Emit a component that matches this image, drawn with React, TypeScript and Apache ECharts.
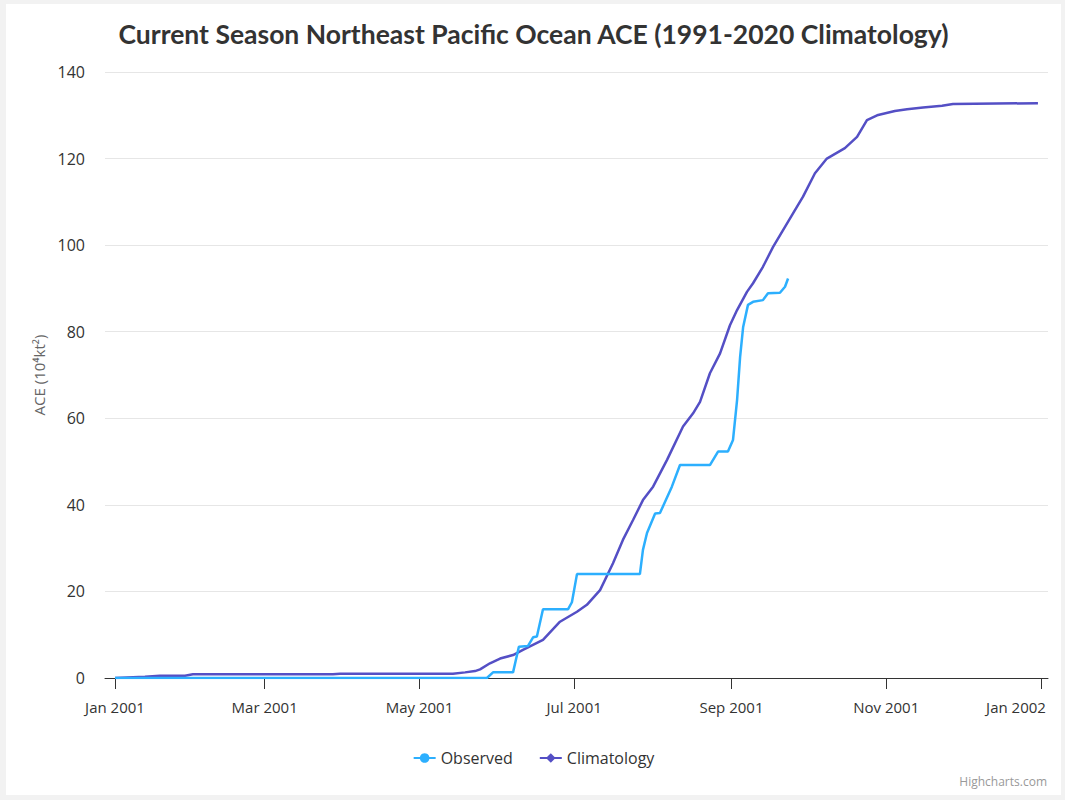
import React, { useEffect, useRef } from "react";
import * as echarts from "echarts";

// x values are days since Jan 1 2001
const tickDays = [0, 59, 120, 181, 243, 304, 365];
const tickLabels = ["Jan 2001", "Mar 2001", "May 2001", "Jul 2001", "Sep 2001", "Nov 2001", "Jan 2002"];

const observedDays = [0, 146.6, 149, 156.9, 159.2, 162.8, 164.8, 166.3, 168.7, 178.6, 180.1, 182.1, 206.9, 208.1, 209.7, 212.9, 214.8, 219.5, 222.7, 234.5, 237.7, 241.6, 243.6, 245.2, 246.4, 247.6, 249.5, 251.5, 255.4, 257.4, 262.1, 264.1, 265.3];
const observedValues = [0, 0, 1.3, 1.3, 7.2, 7.4, 9.4, 9.6, 15.9, 15.9, 17.5, 24.0, 24.0, 29.6, 33.5, 38.0, 38.1, 44.2, 49.2, 49.2, 52.3, 52.3, 55.0, 64.2, 74.2, 81.1, 86.2, 86.9, 87.3, 88.9, 89.0, 90.4, 92.3];

const climDays = [0, 11.8, 17.7, 27.6, 30.7, 85.9, 88.7, 133.2, 138, 141.9, 143.9, 147.8, 151.8, 156.9, 160.8, 168.7, 175.4, 182.1, 186.0, 191.2, 196.3, 200.2, 204.2, 208.1, 212.1, 217.6, 223.9, 227.8, 230.6, 234.5, 238.5, 242.4, 245.2, 249.1, 251.5, 255.4, 259.4, 267.2, 271.2, 275.9, 280.6, 287.7, 292.5, 296.4, 300.4, 307.4, 312.2, 318.5, 326.0, 330.3, 363.8];
const climValues = [0, 0.3, 0.5, 0.5, 0.85, 0.85, 1.0, 1.0, 1.3, 1.6, 2.0, 3.4, 4.5, 5.3, 6.5, 8.8, 13.0, 15.3, 16.9, 20.3, 26.5, 31.9, 36.5, 41.1, 44.2, 50.4, 58.1, 61.1, 63.8, 70.4, 75.0, 81.5, 85.0, 89.2, 91.2, 95.0, 99.6, 107.3, 111.2, 116.6, 120.0, 122.4, 125.0, 128.9, 130.0, 131.0, 131.4, 131.8, 132.2, 132.6, 132.8];

const FONT = "'Open Sans', 'Noto Sans', sans-serif";

export default function App() {
  const ref = useRef<HTMLDivElement>(null);
  useEffect(() => {
    if (!ref.current) return;
    const chart = echarts.init(ref.current, null, { renderer: "svg" });
    chart.setOption({
      animation: false,
      backgroundColor: "#ffffff",
      title: {
        text: "Current Season Northeast Pacific Ocean ACE (1991-2020 Climatology)",
        left: "center",
        top: 11,
        textStyle: { fontFamily: "Lato, 'Open Sans', sans-serif", fontWeight: "bold", fontSize: 26.5, color: "#333333" },
      },
      grid: { left: 99, right: 13, top: 68, bottom: 117, containLabel: false, outerBoundsMode: "none" },
      xAxis: {
        type: "value",
        min: -3.94,
        max: 367.76,
        splitLine: { show: false },
        axisLine: { lineStyle: { color: "#333333", width: 1 } },
        axisTick: { show: true, length: 11, lineStyle: { color: "#333333" }, customValues: tickDays },
        axisLabel: {
          customValues: tickDays,
          margin: 21,
          fontFamily: FONT,
          fontSize: 15,
          color: "#333333",
          hideOverlap: false,
          formatter: (v: number) => {
            const i = tickDays.indexOf(Math.round(v));
            if (i < 0) return "";
            return i === tickDays.length - 1 ? "{last|" + tickLabels[i] + "}" : tickLabels[i];
          },
          rich: {
            last: { fontFamily: FONT, fontSize: 15, color: "#333333", padding: [0, 50, 0, 0] },
          },
        },
      },
      yAxis: {
        type: "value",
        min: 0,
        max: 140,
        interval: 20,
        name: "ACE (10⁴kt²)",
        nameLocation: "middle",
        nameGap: 57,
        nameTextStyle: { fontFamily: FONT, fontSize: 15, color: "#666666" },
        axisLine: { show: false },
        axisTick: { show: false },
        axisLabel: { fontFamily: FONT, fontSize: 16, color: "#333333", margin: 20 },
        splitLine: { lineStyle: { color: "#e6e6e6", width: 1 } },
      },
      legend: {
        bottom: 24,
        left: "center",
        itemWidth: 22,
        itemHeight: 12,
        itemGap: 26,
        textStyle: { fontFamily: FONT, fontSize: 16, color: "#333333" },
        data: ["Observed", "Climatology"],
      },
      graphic: [
        {
          type: "text",
          right: 14,
          bottom: 8,
          style: { text: "Highcharts.com", fontFamily: FONT, fontSize: 12, fill: "#999999" },
        },
      ],
      series: [
        {
          name: "Observed",
          type: "line",
          data: observedDays.map((d, i) => [d, observedValues[i]]),
          color: "#2caffe",
          symbol: "circle",
          symbolSize: 8,
          showSymbol: false,
          lineStyle: { width: 2.5, color: "#2caffe" },
          z: 3,
        },
        {
          name: "Climatology",
          type: "line",
          data: climDays.map((d, i) => [d, climValues[i]]),
          color: "#544fc5",
          symbol: "diamond",
          symbolSize: 9,
          showSymbol: false,
          lineStyle: { width: 2.5, color: "#544fc5" },
          z: 2,
        },
      ],
    });
    return () => chart.dispose();
  }, []);
  return (
    <div style={{ position: "fixed", left: 0, top: 0, width: 1065, height: 800, background: "#f2f2f2" }}>
      <div ref={ref} style={{ position: "absolute", left: 6, top: 4, width: 1055, height: 791 }} />
    </div>
  );
}
